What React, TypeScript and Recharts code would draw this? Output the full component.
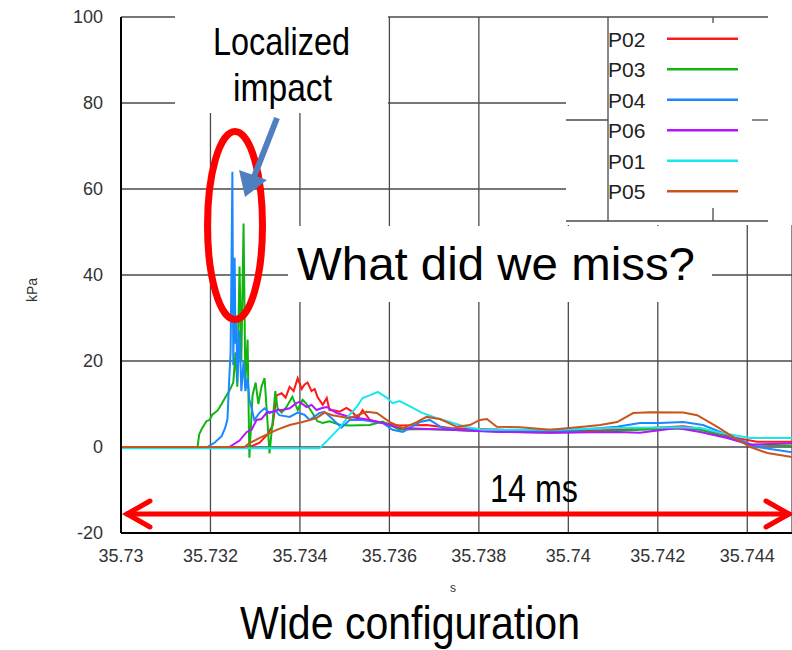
import React from 'react';
import { LineChart, Line, XAxis, YAxis, CartesianGrid, Legend } from 'recharts';

// [time (s), pressure (kPa)]
const P02: [number, number][] = [
  [35.73, 0], [35.73287, 0], [35.7331, 1], [35.73328, 3], [35.73339, 5], [35.73348, 12],
  [35.73359, 12.5], [35.73368, 11.5], [35.73377, 14], [35.73386, 13], [35.73395, 16],
  [35.73404, 13.5], [35.7341, 14.5], [35.73417, 15], [35.73426, 13], [35.73433, 13.5],
  [35.73439, 11.7], [35.73451, 9.8], [35.7346, 11.4], [35.73466, 8.6], [35.73478, 8.5],
  [35.73489, 8.2], [35.73504, 9.1], [35.73516, 8.3], [35.73529, 6.7], [35.7354, 8.6],
  [35.73556, 6.3], [35.73585, 5.6], [35.73623, 5], [35.73683, 5.1], [35.73735, 4.4],
  [35.73847, 4], [35.73959, 3.6], [35.74109, 4], [35.74183, 4.4], [35.74257, 4.8],
  [35.74301, 4.2], [35.74369, 2.2], [35.74422, 1.2], [35.745, 1.2],
];

const P03: [number, number][] = [
  [35.73, 0], [35.73171, 0], [35.73175, 3], [35.73182, 4.5], [35.73191, 6], [35.73198, 6.3],
  [35.73204, 7.5], [35.73216, 8.5], [35.73225, 10], [35.73233, 11.5], [35.73242, 13],
  [35.73251, 15], [35.73256, 22], [35.7326, 14], [35.73265, 42], [35.73269, 20],
  [35.73274, 52], [35.73278, 15], [35.73283, 25], [35.73287, -2.5], [35.73294, 12],
  [35.73301, 15], [35.73307, 10], [35.73314, 14], [35.73321, 16], [35.73328, 5],
  [35.73332, -1.5], [35.73339, 6], [35.73345, 13], [35.7335, 9], [35.73359, 8],
  [35.7337, 9.3], [35.73383, 11.7], [35.73395, 8.6], [35.73406, 11], [35.73415, 10],
  [35.73428, 7.9], [35.73439, 6], [35.73451, 5.6], [35.73466, 6], [35.73489, 5.2],
  [35.73511, 5], [35.73556, 5.1], [35.73585, 5.9], [35.73623, 4], [35.73668, 4.2],
  [35.73735, 4], [35.7378, 3.8], [35.73847, 3.6], [35.73959, 3.3], [35.74071, 3.6],
  [35.7416, 4], [35.7425, 4.3], [35.74295, 4], [35.74362, 2], [35.74407, 0.6], [35.745, 0.3],
];

const P04: [number, number][] = [
  [35.73, 0], [35.73193, 0], [35.73209, 1], [35.73225, 2.5], [35.73233, 4.5], [35.73238, 6.5],
  [35.73242, 16], [35.73245, 22], [35.73247, 42], [35.73249, 64], [35.73251, 19],
  [35.73254, 44], [35.73256, 24], [35.73258, 29], [35.7326, 15], [35.73265, 27],
  [35.73269, 13], [35.73274, 20], [35.73278, 13], [35.73283, 16], [35.73287, 11],
  [35.73292, 9], [35.73298, 6.3], [35.7331, 8], [35.73321, 9], [35.73332, 7.9],
  [35.73345, 8.5], [35.73354, 7.4], [35.73377, 7], [35.73395, 8], [35.7341, 7.5],
  [35.73422, 6.3], [35.73444, 7.9], [35.73455, 8.2], [35.73471, 6.7], [35.73493, 4.5],
  [35.73511, 6.3], [35.7354, 6.3], [35.73585, 5.6], [35.73607, 4], [35.7363, 3.5],
  [35.73668, 5.8], [35.7369, 6.3], [35.73719, 4.4], [35.73757, 4], [35.73847, 4],
  [35.73959, 3.5], [35.74109, 4.7], [35.7416, 5.6], [35.74205, 5.6], [35.74257, 5.8],
  [35.74301, 5.1], [35.74369, 2.3], [35.74422, 0], [35.745, -1.2],
];

const P06: [number, number][] = [
  [35.73, 0], [35.73242, 0], [35.73265, 1.5], [35.73281, 3.5], [35.73292, 4], [35.73303, 6.3],
  [35.73314, 6.5], [35.73325, 7.9], [35.73339, 8.2], [35.7335, 8.6], [35.73361, 8.6],
  [35.73377, 9], [35.73392, 10.2], [35.73399, 10.5], [35.73415, 9.3], [35.73426, 9.8],
  [35.73437, 8.6], [35.73448, 9], [35.7346, 9.3], [35.73482, 7.9], [35.73511, 7],
  [35.73545, 6.5], [35.73585, 5.6], [35.73623, 4.4], [35.73735, 4], [35.73847, 3.5],
  [35.73959, 3.3], [35.74109, 3.5], [35.7416, 3.3], [35.74243, 4.4], [35.74295, 3.5],
  [35.74355, 2.1], [35.74407, 0.5], [35.745, 0.9],
];

const P01: [number, number][] = [
  [35.73, -0.3], [35.73444, -0.3], [35.73466, 2], [35.73489, 4.5], [35.73511, 7.5],
  [35.73527, 9.3], [35.7354, 11.4], [35.73556, 12], [35.73574, 12.8], [35.73594, 11.5],
  [35.73607, 10.2], [35.73623, 10.7], [35.73645, 9.5], [35.73672, 8], [35.73706, 6.7],
  [35.73735, 5.8], [35.73773, 4.6], [35.73809, 4], [35.73959, 4], [35.74109, 4.4],
  [35.7425, 4.6], [35.74295, 4.4], [35.74339, 3.3], [35.74407, 2.1], [35.745, 2.1],
];

const P05: [number, number][] = [
  [35.73, 0], [35.73276, 0], [35.73287, 0.9], [35.7331, 2.1], [35.73348, 4], [35.73377, 5.1],
  [35.73406, 5.8], [35.73437, 6.7], [35.73455, 8], [35.73473, 7.4], [35.73511, 6.7],
  [35.73549, 8.2], [35.73572, 7.9], [35.73601, 5.8], [35.7363, 4.4], [35.73661, 5.8],
  [35.73683, 7], [35.73713, 6.5], [35.73751, 4.7], [35.7378, 5.1], [35.73802, 6.3],
  [35.73818, 6.5], [35.7384, 4.7], [35.73892, 4.6], [35.73959, 4], [35.74033, 4.7],
  [35.74071, 5.1], [35.74109, 5.8], [35.74145, 7.9], [35.74183, 8.1], [35.74257, 8],
  [35.74288, 7.4], [35.74333, 4.7], [35.74369, 2.3], [35.74407, 0], [35.74445, -1.4],
  [35.745, -2.3],
];

const TIME_TICKS = [35.73, 35.732, 35.734, 35.736, 35.738, 35.74, 35.742, 35.744];
const KPA_TICKS = [-20, 0, 20, 40, 60, 80, 100];

const SERIES = [
  { name: 'P02', color: '#ff1a1a', points: P02 },
  { name: 'P03', color: '#12b412', points: P03 },
  { name: 'P04', color: '#1a88ff', points: P04 },
  { name: 'P06', color: '#b414ff', points: P06 },
  { name: 'P01', color: '#16e8f0', points: P01 },
  { name: 'P05', color: '#c8561c', points: P05 },
];

const FONT = "'Liberation Sans', Arial, sans-serif";
const GRID = '#4a4a4a';

const LegendBox = () => (
  <svg width={226} height={215} style={{ display: 'block' }}>
    <rect x={0} y={0} width={226} height={215} fill="#fff" />
    <g stroke={GRID} strokeWidth={1.3}>
      <line x1={0} y1={7} x2={202} y2={7} />
      <line x1={0} y1={211} x2={202} y2={211} />
      <line x1={42} y1={7} x2={42} y2={211} />
      <line x1={147} y1={7} x2={147} y2={13} />
      <line x1={147} y1={198} x2={147} y2={211} />
      <line x1={0} y1={110} x2={42} y2={110} />
      <line x1={186} y1={110} x2={202} y2={110} />
    </g>
    {SERIES.map((s, i) => (
      <g key={s.name}>
        <text x={42} y={36.7 + i * 30.5} fontSize={21} fill="#222" fontFamily={FONT}>{s.name}</text>
        <line x1={101} x2={172} y1={28.7 + i * 30.5} y2={28.7 + i * 30.5} stroke={s.color} strokeWidth={2.6} />
      </g>
    ))}
  </svg>
);

const Annotations = () => (
  <svg width={792} height={650} style={{ position: 'absolute', left: 0, top: 0, pointerEvents: 'none' }}>
    {/* callout boxes pasted over the grid */}
    <rect x={175} y={0} width={213} height={113} fill="#fff" />
    <rect x={288} y={226} width={424} height={76} fill="#fff" />
    <g fontFamily={FONT} fill="#000">
      <text x={213} y={55} fontSize={39} textLength={137} lengthAdjust="spacingAndGlyphs">Localized</text>
      <text x={233} y={101} fontSize={39} textLength={99} lengthAdjust="spacingAndGlyphs">impact</text>
      <text x={297} y={280} fontSize={47} textLength={398} lengthAdjust="spacingAndGlyphs">What did we miss?</text>
      <text x={490} y={502} fontSize={38} textLength={88} lengthAdjust="spacingAndGlyphs">14 ms</text>
      <text x={240} y={639} fontSize={46} textLength={340} lengthAdjust="spacingAndGlyphs">Wide configuration</text>
    </g>
    {/* red ring around the spikes */}
    <ellipse cx={235} cy={225.5} rx={27.5} ry={94} fill="none" stroke="#ff0000" strokeWidth={7} />
    {/* blue pointer */}
    <line x1={277} y1={118} x2={252} y2={182} stroke="#4f7fbf" strokeWidth={6} />
    <polygon points="245,197 239,170 267,180" fill="#4f7fbf" />
    {/* 14 ms span arrow */}
    <g stroke="#ff0000" strokeWidth={5} strokeLinecap="round" fill="none">
      <line x1={127} y1={514} x2={789} y2={514} />
      <polyline points="150,501 127,514 150,527" />
      <polyline points="766,501 789,514 766,527" />
    </g>
  </svg>
);

const App = () => {
  return (
    <div style={{ position: 'absolute', left: 0, top: 0, width: 792, height: 650, overflow: 'hidden', background: '#fff' }}>
      <LineChart width={792} height={650} margin={{ top: 17, right: 0, bottom: 87, left: 0 }}>
        <CartesianGrid stroke={GRID} strokeWidth={1.3} />
        <XAxis
          dataKey="t"
          type="number"
          domain={[35.73, 35.745]}
          allowDataOverflow
          ticks={TIME_TICKS}
          tickFormatter={(v: number) => String(Number(v.toFixed(3)))}
          height={30}
          tickLine={false}
          tickSize={0}
          tickMargin={16}
          stroke="#000"
          strokeWidth={2}
          tick={{ fill: '#333', fontSize: 18, fontFamily: FONT }}
        />
        <YAxis
          type="number"
          domain={[-20, 100]}
          ticks={KPA_TICKS}
          width={121}
          tickLine={false}
          tickSize={0}
          tickMargin={18}
          stroke="#000"
          strokeWidth={2}
          tick={{ fill: '#333', fontSize: 18, fontFamily: FONT }}
        />
        <Legend
          layout="horizontal"
          verticalAlign="middle"
          align="center"
          width={226}
          height={215}
          wrapperStyle={{ left: 566, top: 10, width: 226, height: 215 }}
          content={() => <LegendBox />}
        />
        {SERIES.map((s) => (
          <Line
            key={s.name}
            name={s.name}
            data={s.points.map(([t, v]) => ({ t, v }))}
            dataKey="v"
            type="linear"
            stroke={s.color}
            strokeWidth={2}
            dot={false}
            activeDot={false}
            isAnimationActive={false}
          />
        ))}
      </LineChart>
      <svg width={792} height={650} style={{ position: 'absolute', left: 0, top: 0, pointerEvents: 'none' }}>
        <text x={0} y={0} transform="translate(37 290) rotate(-90)" textAnchor="middle" fontSize={14} fill="#333" fontFamily={FONT}>kPa</text>
        <text x={453} y={592} textAnchor="middle" fontSize={12} fill="#333" fontFamily={FONT}>s</text>
      </svg>
      <Annotations />
    </div>
  );
};

export default App;
